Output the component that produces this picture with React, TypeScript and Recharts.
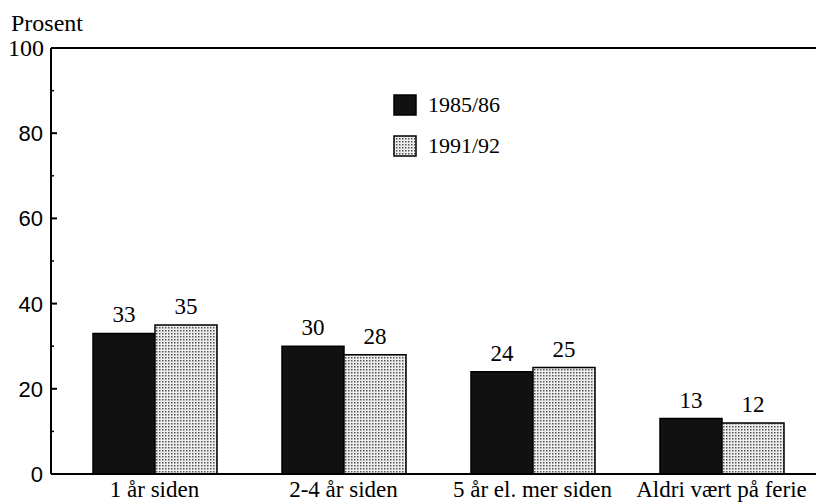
import { Bar, BarChart, LabelList, ReferenceLine, XAxis, YAxis } from "recharts";

const categories = ["1 år siden", "2-4 år siden", "5 år el. mer siden", "Aldri vært på ferie"];
const values8586 = [33, 30, 24, 13];
const values9192 = [35, 28, 25, 12];
const yTicks = [0, 10, 20, 30, 40, 50, 60, 70, 80, 90, 100];
const legendItems = ["1985/86", "1991/92"];

const data = categories.map((name, i) => ({
  name,
  a: values8586[i],
  b: values9192[i],
}));

const SERIF = '"Liberation Serif", serif';
const SANS = '"Liberation Sans", sans-serif';

// y ticks: labels every 20, small marks inside the axis every 10
function YTick({ x, y, payload }: any) {
  const v = payload.value;
  const ax = x + 7;
  if (v % 20 !== 0) {
    return <line x1={ax} x2={ax + 3} y1={y} y2={y} stroke="#000" strokeWidth={1.5} />;
  }
  const top = v === 100;
  return (
    <g>
      {v > 0 && !top && <line x1={ax} x2={ax + 6} y1={y} y2={y} stroke="#000" strokeWidth={2} />}
      <text
        x={top ? x : x - 1}
        y={y}
        dy={top ? 8 : 8}
        textAnchor="end"
        style={{ fontFamily: top ? SERIF : SANS, fontSize: top ? 24 : 22 }}
        fill="#000"
      >
        {v}
      </text>
    </g>
  );
}

export default function App() {
  return (
    <div
      style={{
        position: "absolute",
        left: 0,
        top: 0,
        width: 816,
        height: 502,
        background: "#fff",
        fontFamily: SERIF,
      }}
    >
      <div style={{ position: "absolute", left: 11, top: 9, fontSize: 24, lineHeight: "28px", color: "#000" }}>
        Prosent
      </div>
      <div style={{ position: "absolute", left: 393, top: 84 }}>
        {legendItems.map((label, i) => (
          <div key={label} style={{ display: "flex", alignItems: "center", height: 41, fontSize: 22 }}>
            <svg width={24} height={22} style={{ marginRight: 11 }}>
              <rect
                x={1}
                y={1}
                width={22}
                height={20}
                fill={i === 0 ? "#111" : "url(#dots)"}
                stroke="#000"
                strokeWidth={1.5}
              />
            </svg>
            {label}
          </div>
        ))}
      </div>
      <BarChart
        width={816}
        height={502}
        data={data}
        margin={{ top: 48, right: 0, bottom: 0, left: 0 }}
        barGap={0}
        barSize={62}
      >
        <defs>
          <pattern id="dots" width={3} height={3} patternUnits="userSpaceOnUse">
            <rect width={3} height={3} fill="#eee" />
            <rect width={1.5} height={1.5} fill="#555" />
          </pattern>
        </defs>
        <XAxis
          dataKey="name"
          height={28}
          padding={{ left: 9, right: 0 }}
          tickLine={false}
          axisLine={{ stroke: "#000", strokeWidth: 2 }}
          tick={{ fill: "#000", fontSize: 23, fontFamily: SERIF }}
          tickMargin={1}
          interval={0}
        />
        <YAxis
          domain={[0, 100]}
          ticks={yTicks}
          width={51}
          tickLine={false}
          tickSize={0}
          tickMargin={7}
          axisLine={{ stroke: "#000", strokeWidth: 2 }}
          tick={<YTick />}
          interval={0}
        />
        <ReferenceLine y={100} stroke="#000" strokeWidth={2} />
        <Bar dataKey="a" fill="#111" stroke="#000" strokeWidth={1.5} isAnimationActive={false}>
          <LabelList dataKey="a" position="top" offset={11} fill="#000" fontSize={23} fontFamily={SERIF} />
        </Bar>
        <Bar dataKey="b" fill="url(#dots)" stroke="#000" strokeWidth={1.5} isAnimationActive={false}>
          <LabelList dataKey="b" position="top" offset={11} fill="#000" fontSize={23} fontFamily={SERIF} />
        </Bar>
      </BarChart>
    </div>
  );
}
